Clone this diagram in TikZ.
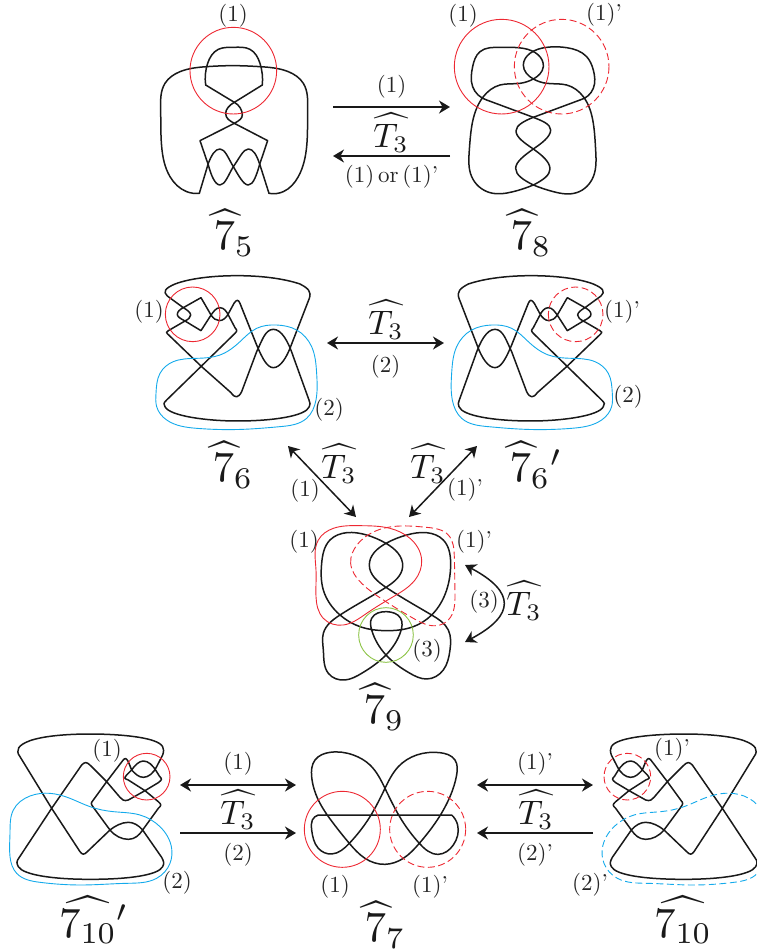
\documentclass[tikz,border=0pt]{standalone}
\usepackage{amsmath,amssymb}
\usepackage{xcolor}
\usepackage{graphicx}
\usetikzlibrary{arrows.meta, calc, hobby}

\definecolor{knotred}{RGB}{237,40,50}
\definecolor{knotblue}{RGB}{20,170,235}
\definecolor{knotgreen}{RGB}{140,195,70}

\newcommand{\hatseven}{\rlap{\kern-0.5pt\scalebox{1.33}[1]{$\widehat{\phantom{7}}$}}7}

% knot with six, mirrored on the right
\newcommand{\knotsix}{
  \draw[knot] (112,108) -- (160,143) .. controls (172,150) and (182,158) .. (182,165) .. controls (182,172) and (175,178) .. (165,183) -- (213,212) -- (240,170) .. controls (250,155) and (258,143) .. (270,143) .. controls (282,143) and (290,155) .. (295,165) -- (315,203) .. controls (322,212) and (322,212) .. (315,220) -- (110,420) .. controls (100,430) and (100,432) .. (105,440) .. controls (118,468) and (230,483) .. (322,483) .. controls (430,483) and (528,468) .. (538,440) .. controls (542,432) and (540,430) .. (537,420) -- (490,290) .. controls (475,245) and (455,208) .. (430,208) .. controls (405,208) and (395,245) .. (380,275) -- (335,395) .. controls (325,415) and (315,415) .. (303,398) -- (215,320) -- (113,222) .. controls (108,217) and (108,217) .. (115,212) -- (165,183) .. controls (150,175) and (142,170) .. (142,163) .. controls (142,155) and (150,148) .. (160,143) -- (213,113) -- (243,165) .. controls (250,175) and (258,182) .. (268,182) .. controls (280,182) and (288,172) .. (293,165) -- (312,130) .. controls (320,118) and (325,118) .. (330,130) -- (380,255) .. controls (395,290) and (410,323) .. (430,323) .. controls (452,323) and (470,290) .. (480,265) -- (538,115) .. controls (545,95) and (535,85) .. (510,72) .. controls (460,55) and (390,47) .. (322,47) .. controls (250,47) and (180,55) .. (135,72) .. controls (105,85) and (98,95) .. (112,108) -- cycle;
}
\newcommand{\knotsixblue}[1]{
  \draw[thinline, knotblue, #1, closed=true] (78,400)..(90,340)..(130,305)..(200,295)..(270,285)..(330,245)..(380,205)..(440,195)..(500,210)..(545,260)..(560,340)..(558,420)..(530,475)..(450,500)..(340,508)..(200,505)..(110,480)..(80,440);
}
\newcommand{\knotten}{
  \draw[knot] (60,110) .. controls (45,90) and (55,75) .. (90,62) .. controls (130,48) and (200,42) .. (270,42) .. controls (340,42) and (420,48) .. (460,62) .. controls (490,72) and (495,85) .. (488,105) -- (470,140) .. controls (460,160) and (445,172) .. (430,172) .. controls (415,172) and (405,160) .. (395,150) -- (385,125) .. controls (378,113) and (375,113) .. (368,122) -- (320,185) -- (280,240) .. controls (272,250) and (272,250) .. (280,262) -- (330,330) .. controls (345,348) and (365,358) .. (385,358) .. controls (405,358) and (418,345) .. (428,330) -- (475,265) .. controls (485,255) and (485,255) .. (475,245) -- (435,212) -- (385,180) .. controls (372,175) and (372,175) .. (380,165) -- (395,150) .. controls (405,135) and (418,123) .. (430,123) .. controls (445,123) and (458,135) .. (470,155) -- (478,168) .. controls (487,178) and (487,178) .. (475,188) -- (435,212) -- (385,240) .. controls (372,245) and (365,238) .. (360,232) -- (320,185) -- (272,137) .. controls (260,125) and (255,125) .. (245,135) -- (155,265) -- (58,412) .. controls (48,425) and (50,430) .. (55,440) .. controls (70,465) and (160,478) .. (270,478) .. controls (390,478) and (475,465) .. (488,440) .. controls (493,430) and (492,425) .. (485,412) -- (428,330) .. controls (415,315) and (400,307) .. (385,307) .. controls (365,307) and (345,318) .. (330,330) -- (262,395) .. controls (252,405) and (248,405) .. (240,395) -- (155,265) -- cycle;
}
\newcommand{\knottenblue}[1]{
  \draw[thinline, knotblue, #1, closed=true] (30,340)..(40,270)..(90,228)..(150,220)..(210,235)..(270,260)..(340,275)..(420,285)..(480,320)..(515,385)..(510,430)..(470,475)..(380,490)..(250,495)..(120,487)..(50,460)..(30,410);
}

\begin{document}
\begin{tikzpicture}[
    x=1pt, y=-1pt,
    zoomed/.style={x=0.3333pt, y=-0.3333pt},
    flipped/.style={x=-0.3333pt, y=-0.3333pt},
    knot/.style={line width=1.5pt, line cap=round, line join=round, draw=black!90},
    softknot/.style={knot, use Hobby shortcut},
    thinline/.style={line width=0.9pt, use Hobby shortcut},
    dashline/.style={dash pattern=on 7pt off 3.5pt},
    arrow/.style={line width=1.5pt, black!90, -{Stealth[length=11pt, width=13pt, inset=3.5pt]}},
    twoway/.style={arrow, {Stealth[length=11pt, width=13pt, inset=3.5pt]}-{Stealth[length=11pt, width=13pt, inset=3.5pt]}},
    num/.style={scale=2.3, inner sep=0pt, black!85},
    tee/.style={scale=3.4, inner sep=0pt, black!90},
    knotname/.style={scale=4.3, inner sep=0pt, black!90}
]
\useasboundingbox (0,0) rectangle (756,951);

% top row
\begin{scope}[shift={(140,0)}, zoomed]
  \draw[softknot] (178,580)..(140,575)..(90,530)..(65,440)..(62,330)..(75,250)..(120,215)..(200,200)..(280,197)..(360,200)..(445,215)..(490,250)..(503,330)..(500,440)..(475,530)..(430,575)..(387,580);
  \draw[knot] (387,580) -- (360,495) .. controls (350,465) and (340,447) .. (325,447) .. controls (310,447) and (298,475) .. (280,500) .. controls (265,525) and (255,555) .. (240,555) .. controls (225,555) and (213,525) .. (205,495) -- (180,422) -- (283,370) .. controls (298,362) and (307,355) .. (307,345) .. controls (307,330) and (298,315) .. (283,307) -- (197,255);
  \draw[softknot] (197,255)..(203,190)..(235,148)..(280,142)..(330,148)..(360,190)..(367,255);
  \draw[knot] (367,255) -- (283,307) .. controls (268,315) and (257,328) .. (257,340) .. controls (257,355) and (268,362) .. (283,370) -- (383,422) -- (360,490) .. controls (350,525) and (340,555) .. (325,555) .. controls (310,555) and (295,525) .. (280,500) .. controls (265,475) and (255,447) .. (240,447) .. controls (225,447) and (215,465) .. (205,490) -- (178,580);
  \draw[thinline, knotred] (280,212) circle (130);
\end{scope}
\begin{scope}[shift={(430,0)}, zoomed]
  \draw[knot] (310,555) .. controls (340,540) and (360,525) .. (360,507) .. controls (360,485) and (335,465) .. (310,447) .. controls (285,430) and (258,412) .. (258,393) .. controls (258,375) and (285,362) .. (310,352) -- (450,300);
  \draw[knot] (310,555) .. controls (280,540) and (257,525) .. (257,505) .. controls (257,485) and (285,465) .. (310,447) .. controls (335,430) and (362,410) .. (362,390) .. controls (362,372) and (335,362) .. (310,352) -- (170,300);
  \draw[softknot] (450,300)..(490,265)..(490,210)..(470,170)..(410,143)..(350,142)..(300,160)..(280,195)..(310,237)..(350,250)..(410,255)..(460,290)..(490,370)..(497,450)..(490,530)..(440,578)..(370,575)..(310,555);
  \draw[softknot] (170,300)..(128,260)..(128,200)..(150,155)..(210,142)..(280,145)..(325,165)..(340,200)..(310,237)..(270,250)..(210,255)..(160,290)..(125,380)..(118,450)..(125,530)..(180,578)..(250,575)..(310,555);
  \draw[thinline, knotred] (215,200) circle (142);
  \draw[thinline, knotred, dashline] (395,200) circle (142);
\end{scope}

\node[num] (one5) at (233,16) {(1)};
\node[num] (one8) at (463,16) {(1)};
\node[num] (onep8) at (604,15) {(1)'};
\node[knotname] (seven5) at (234,233) {$\hatseven_5$};
\node[knotname] (seven8) at (531,233) {$\hatseven_8$};

\coordinate (a1) at (333,107);
\coordinate (a2) at (450,107);
\coordinate (b1) at (450,156);
\coordinate (b2) at (333,156);
\draw[arrow] (a1) -- node[num, above=3pt] (arrone) {(1)} (a2);
\draw[arrow] (b1) -- node[num, below=3.3pt] (arrtwo) {(1)\,or\,(1)'} (b2);
\node[tee] (tee1) at (391,133) {$\widehat{T_3}$};

% second row
\begin{scope}[shift={(130,260)}, zoomed]
  \knotsix
  \knotsixblue{}
  \draw[thinline, knotred] (188,163) circle (82);
\end{scope}
\begin{scope}[shift={(638.3,260)}, flipped]
  \knotsix
  \knotsixblue{}
  \draw[thinline, knotred, dashline] (188,163) circle (82);
\end{scope}

\node[num] (one6) at (149,312) {(1)};
\node[num] (two6) at (329,410) {(2)};
\node[num] (onep6) at (622,312) {(1)'};
\node[num] (twop6) at (628,397) {(2)};
\node[knotname] (seven6) at (233,465) {$\hatseven_6$};
\node[knotname] (seven6p) at (536,465) {$\hatseven_6{}^{\prime}$};

\coordinate (c1) at (327,343);
\coordinate (c2) at (444,343);
\draw[twoway] (c1) -- node[num, below=4.5pt] (arrthree) {(2)} (c2);
\node[tee] (tee2) at (386,320) {$\widehat{T_3}$};

\coordinate (d1) at (288,446);
\coordinate (d2) at (356,517);
\coordinate (e1) at (477,446);
\coordinate (e2) at (409,517);
\draw[twoway] (d1) -- (d2);
\draw[twoway] (e1) -- (e2);
\node[tee] (tee3) at (339,464) {$\widehat{T_3}$};
\node[tee] (tee4) at (428,464) {$\widehat{T_3}$};
\node[num] (one9a) at (305,491) {(1)};
\node[num] (onep9a) at (465,490) {(1)'};

% middle knot
\begin{scope}[shift={(280,500)}, zoomed]
  \draw[softknot, closed=true] (380,105)..(318,130)..(268,195)..(318,262)..(455,345)..(505,390)..(510,450)..(490,510)..(440,537)..(390,520)..(318,465)..(275,390)..(275,355)..(320,335)..(362,355)..(362,395)..(318,465)..(245,520)..(195,540)..(145,520)..(130,450)..(130,400)..(180,345)..(318,262)..(368,200)..(318,130)..(260,105)..(200,98)..(150,120)..(125,190)..(130,270)..(180,345)..(240,380)..(320,392)..(400,380)..(455,345)..(500,270)..(512,190)..(490,120)..(440,98);
  \draw[thinline, knotred, closed=true] (108,210)..(115,120)..(160,85)..(240,77)..(330,85)..(390,115)..(425,180)..(405,240)..(340,290)..(260,340)..(190,375)..(130,355)..(108,290);
  \draw[thinline, knotred, dashline, closed=true] (212,190)..(235,130)..(300,88)..(440,82)..(505,105)..(523,170)..(525,280)..(505,360)..(470,377)..(400,355)..(310,300)..(245,250);
  \draw[thinline, knotgreen] (318,405) circle (82);
\end{scope}

\node[num] (one9) at (304,542) {(1)};
\node[num] (onep9) at (474,542) {(1)'};
\node[num] (three9) at (427,651) {(3)};
\node[num] (threearr) at (484,602) {(3)};
\node[tee] (tee5) at (524,601) {$\widehat{T_3}$};
\node[knotname] (seven9) at (384,707) {$\hatseven_9$};

\coordinate (f1) at (465,565);
\coordinate (f2) at (465,642);
\draw[twoway] (f1) to[bend left=62, looseness=1.9] (f2);

% bottom row
\begin{scope}[shift={(0,720)}, zoomed]
  \knotten
  \knottenblue{}
  \draw[thinline, knotred] (440,170) circle (70);
\end{scope}
\begin{scope}[shift={(290,730)}, zoomed]
  \draw[softknot] (485,255)..(503,285)..(490,345)..(445,373)..(388,340)..(335,270)..(285,175)..(240,105)..(190,75)..(120,67)..(75,90)..(65,140)..(85,210)..(130,280)..(178,340)..(225,385)..(285,403)..(340,385)..(388,340)..(435,280)..(480,200)..(500,135)..(495,90)..(450,68)..(380,75)..(325,110)..(285,175)..(240,260)..(178,340)..(125,372)..(85,355)..(65,300)..(67,270)..(85,255)--(485,255);
  \draw[thinline, knotred] (157,298) circle (114);
  \draw[thinline, knotred, dashline] (413,298) circle (114);
\end{scope}
\begin{scope}[shift={(774,720)}, flipped]
  \knotten
  \knottenblue{dashline}
  \draw[thinline, knotred, dashline] (440,170) circle (70);
\end{scope}

\node[num] (one10) at (107,751) {(1)};
\node[num] (two10) at (177,883) {(2)};
\node[knotname] (seven10p) at (94,920) {$\widehat{7_{10}}{}^{\prime}$};
\node[num] (one7) at (335,887) {(1)};
\node[num] (onep7) at (430,887) {(1)'};
\node[knotname] (seven7) at (385,925) {$\hatseven_7$};
\node[num] (onep10) at (672,750) {(1)'};
\node[num] (twop10) at (590,885) {(2)'};
\node[knotname] (seven10) at (683,920) {$\widehat{7_{10}}$};

\coordinate (g1) at (180,785);
\coordinate (g2) at (296,785);
\coordinate (h1) at (180,833);
\coordinate (h2) at (296,833);
\coordinate (k1) at (477,785);
\coordinate (k2) at (593,785);
\coordinate (m1) at (593,833);
\coordinate (m2) at (477,833);
\draw[twoway] (g1) -- node[num, above=3.3pt] (arrfour) {(1)} (g2);
\draw[arrow] (h1) -- node[num, below=3.5pt] (arrfive) {(2)} (h2);
\draw[twoway] (k1) -- node[num, above=3.3pt] (arrsix) {(1)'} (k2);
\draw[arrow] (m1) -- node[num, below=3.5pt] (arrseven) {(2)'} (m2);
\node[tee] (tee6) at (238,810) {$\widehat{T_3}$};
\node[tee] (tee7) at (536,810) {$\widehat{T_3}$};

\end{tikzpicture}
\end{document}
